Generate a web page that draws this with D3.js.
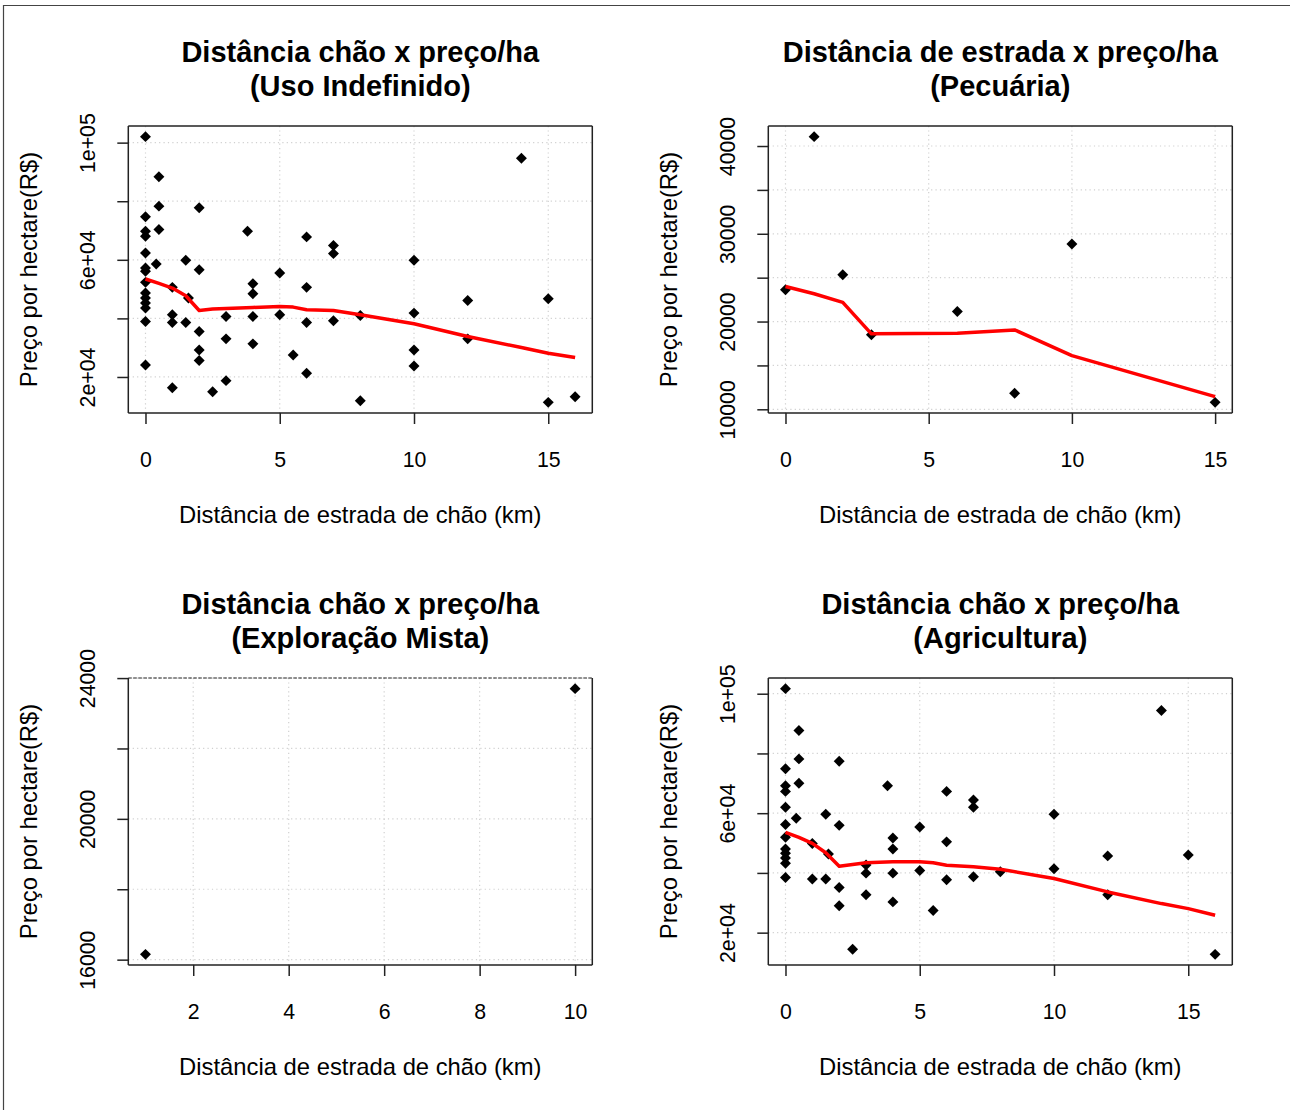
<!DOCTYPE html>
<html><head><meta charset="utf-8">
<script src="https://cdn.jsdelivr.net/npm/d3@7"></script>
<style>
body{margin:0;background:#fff}
svg{display:block}
text{font-family:"Liberation Sans",Arial,sans-serif;fill:#000}
</style>
</head><body>
<svg id="c" width="1290" height="1110"></svg>
<script>
// ---------------- DATA ----------------
// Panel 1: Uso Indefinido
const p1Title = ["Distância chão x preço/ha", "(Uso Indefinido)"];
const p1X = [0,0,0,0,0,0,0,0,0,0,0,0,0,0, 0.4, 0.5,0.5,0.5, 1,1,1,1, 1.5,1.5, 1.6, 2,2,2,2,2, 2.5, 3,3,3, 3.8, 4,4,4,4, 5,5, 5.5, 6,6,6,6, 7,7,7, 8,8, 10,10,10,10, 12,12, 14, 15,15, 16];
const p1Y = [102050,74670,69760,68050,62340,57200,56060,52300,48650,46930,45220,43510,38950,24110, 58570, 88360,78320,70330, 50590,41230,38600,16350, 59830,38600, 46930, 77750,56630,35520,29240,25590, 14980, 40660,33010,18750, 69760, 51840,48420,40660,31300, 55490,41230, 27530, 67820,50590,38600,21260, 64850,62110,39180, 41000,11900, 59830,41800,29240,23760, 46130,33010, 94640, 46700,11330, 13270];
const p1FitX = [0,0.5,1,1.5,2,2.5,3,4,5,5.5,6,7,8,10,12,14,15,16];
const p1FitY = [53440,51950,50360,47730,42710,43170,43400,43740,44080,43850,42940,42710,41230,38150,33810,30050,28100,26620];
const p1XTicks = [0,5,10,15];
const p1YTicks = [20000,40000,60000,80000,100000];
const p1YLabels = ["2e+04","","6e+04","","1e+05"];

// Panel 2: Pecuária
const p2Title = ["Distância de estrada x preço/ha", "(Pecuária)"];
const p2X = [0,1,2,3,6,8,10,15];
const p2Y = [23625,41070,25340,18485,21150,11820,28840,10790];
const p2FitX = [0,1,2,3,6,8,10,15];
const p2FitY = [24000,23170,22180,18600,18670,19050,16120,11440];
const p2XTicks = [0,5,10,15];
const p2YTicks = [10000,15000,20000,25000,30000,35000,40000];
const p2YLabels = ["10000","","20000","","30000","","40000"];

// Panel 3: Exploração Mista
const p3Title = ["Distância chão x preço/ha", "(Exploração Mista)"];
const p3X = [1,10];
const p3Y = [16150,23700];
const p3FitX = [];
const p3FitY = [];
const p3XTicks = [2,4,6,8,10];
const p3YTicks = [16000,18000,20000,22000,24000];
const p3YLabels = ["16000","","20000","","24000"];

// Panel 4: Agricultura
const p4Title = ["Distância chão x preço/ha", "(Agricultura)"];
const p4X = [0,0,0,0,0,0,0,0,0,0,0,0, 0.4, 0.5,0.5,0.5, 1,1, 1.5,1.5, 1.6, 2,2,2,2, 2.5, 3,3,3, 3.8, 4,4,4,4, 5,5, 5.5, 6,6,6, 7,7,7, 8, 10,10, 12,12, 14, 15, 16];
const p4Y = [101700,74850,69200,67300,62000,56180,51930,48010,46560,45000,43200,38500, 58300, 87690,78180,70010, 49880,37950, 59610,37950, 46340, 77400,55920,35150,29000, 14460, 42620,39930,32660, 69200, 51710,48010,39930,30300, 55370,40820, 27390, 67300,50400,37700, 64400,62000,38700, 40400, 59610,41400, 45700,32700, 94400, 46000, 12730];
const p4FitX = [0,0.5,1,1.5,2,2.5,3,4,5,5.5,6,7,8,10,12,14,15,16];
const p4FitY = [53560,51900,49870,46740,42260,42820,43380,43710,43710,43380,42600,42040,41250,38120,33640,29730,28050,25810];
const p4XTicks = [0,5,10,15];
const p4YTicks = [20000,40000,60000,80000,100000];
const p4YLabels = ["2e+04","","6e+04","","1e+05"];

const xLabel = "Distância de estrada de chão (km)";
const yLabel = "Preço por hectare(R$)";

// ---------------- DRAW ----------------
const svg = d3.select("#c");
svg.append("rect").attr("width",1290).attr("height",1110).attr("fill","#fff");
svg.append("path").attr("d","M3.5,1110V5.5H1290").attr("fill","none").attr("stroke","#444").attr("stroke-width",1.2);

const W = 464, H = 287;
const TICK_FS = 21.3, LAB_FS = 23.8, TITLE_FS = 29;

function padded(vals){
  const e = d3.extent(vals); const r = e[1]-e[0];
  return [e[0]-0.04*r, e[1]+0.04*r];
}

function drawPanel(cfg, left, top){
  const g = svg.append("g");
  const x = d3.scaleLinear().domain(padded(cfg.x)).range([left, left+W]);
  const y = d3.scaleLinear().domain(padded(cfg.y)).range([top+H, top]);

  // grid
  const grid = g.append("g").attr("stroke","#d0d0d0").attr("stroke-width",1.2).attr("stroke-dasharray","1.2,3.2");
  grid.selectAll(".gv").data(cfg.xTicks).join("line")
    .attr("x1",d=>x(d)).attr("x2",d=>x(d)).attr("y1",top).attr("y2",top+H);
  grid.selectAll(".gh").data(cfg.yTicks).join("line")
    .attr("x1",left).attr("x2",left+W).attr("y1",d=>y(d)).attr("y2",d=>y(d));

  // points
  const sym = d3.symbol().type(d3.symbolSquare).size(60)();
  g.selectAll(".pt").data(cfg.x.map((v,i)=>[v,cfg.y[i]])).join("path")
    .attr("d",sym)
    .attr("transform",d=>`translate(${x(d[0])},${y(d[1])}) rotate(45)`)
    .attr("fill","#000");

  // lowess line
  if (cfg.fx.length){
    const line = d3.line().x(d=>x(d[0])).y(d=>y(d[1]));
    g.append("path").datum(cfg.fx.map((v,i)=>[v,cfg.fy[i]]))
      .attr("d",line).attr("fill","none").attr("stroke","#ff0000")
      .attr("stroke-width",3.5).attr("stroke-linejoin","round");
  }

  // box
  const edge = (x1,y1,x2,y2,dash)=>{
    const l = g.append("line").attr("x1",x1).attr("y1",y1).attr("x2",x2).attr("y2",y2)
      .attr("stroke","#222").attr("stroke-width",1.5);
    if (dash) l.attr("stroke-dasharray","3.5,1.5").attr("stroke-width",1.2);
  };
  edge(left,top,left+W,top,cfg.topDashed);
  edge(left,top+H,left+W,top+H);
  edge(left,top,left,top+H);
  edge(left+W,top,left+W,top+H);

  // x axis
  const ax = g.append("g").attr("transform",`translate(0,${top+H})`)
    .call(d3.axisBottom(x).tickValues(cfg.xTicks).tickSize(11).tickFormat(d3.format("d")));
  ax.select(".domain").remove();
  ax.selectAll("line").attr("stroke","#222").attr("stroke-width",1.5);
  ax.selectAll("text").attr("y",54).attr("dy",0).attr("font-size",TICK_FS)
    .attr("font-family","Liberation Sans, Arial, sans-serif").attr("fill","#000");

  // y axis
  const ay = g.append("g").attr("transform",`translate(${left},0)`)
    .call(d3.axisLeft(y).tickValues(cfg.yTicks).tickSize(11).tickFormat((d,i)=>cfg.yLabels[i]));
  ay.select(".domain").remove();
  ay.selectAll("line").attr("stroke","#222").attr("stroke-width",1.5);
  ay.selectAll("text").attr("x",0).attr("y",0).attr("dy",0)
    .attr("text-anchor","middle").attr("transform","translate(-33.5,0) rotate(-90)")
    .attr("font-size",TICK_FS).attr("font-family","Liberation Sans, Arial, sans-serif").attr("fill","#000");

  // labels
  g.append("text").attr("x",left+W/2).attr("y",top+H+110).attr("text-anchor","middle")
    .attr("font-size",LAB_FS).text(xLabel);
  g.append("text").attr("transform",`translate(${left-91},${top+H/2}) rotate(-90)`)
    .attr("text-anchor","middle").attr("font-size",LAB_FS).text(yLabel);

  // title
  g.append("text").attr("x",left+W/2).attr("y",top-64.5).attr("text-anchor","middle")
    .attr("font-size",TITLE_FS).attr("font-weight","bold").text(cfg.title[0]);
  g.append("text").attr("x",left+W/2).attr("y",top-30.5).attr("text-anchor","middle")
    .attr("font-size",TITLE_FS).attr("font-weight","bold").text(cfg.title[1]);
}

drawPanel({title:p1Title,x:p1X,y:p1Y,fx:p1FitX,fy:p1FitY,xTicks:p1XTicks,yTicks:p1YTicks,yLabels:p1YLabels}, 128.3, 126);
drawPanel({title:p2Title,x:p2X,y:p2Y,fx:p2FitX,fy:p2FitY,xTicks:p2XTicks,yTicks:p2YTicks,yLabels:p2YLabels}, 768.3, 126);
drawPanel({title:p3Title,x:p3X,y:p3Y,fx:p3FitX,fy:p3FitY,xTicks:p3XTicks,yTicks:p3YTicks,yLabels:p3YLabels,topDashed:true}, 128.3, 678);
drawPanel({title:p4Title,x:p4X,y:p4Y,fx:p4FitX,fy:p4FitY,xTicks:p4XTicks,yTicks:p4YTicks,yLabels:p4YLabels}, 768.3, 678);
</script>
</body></html>
